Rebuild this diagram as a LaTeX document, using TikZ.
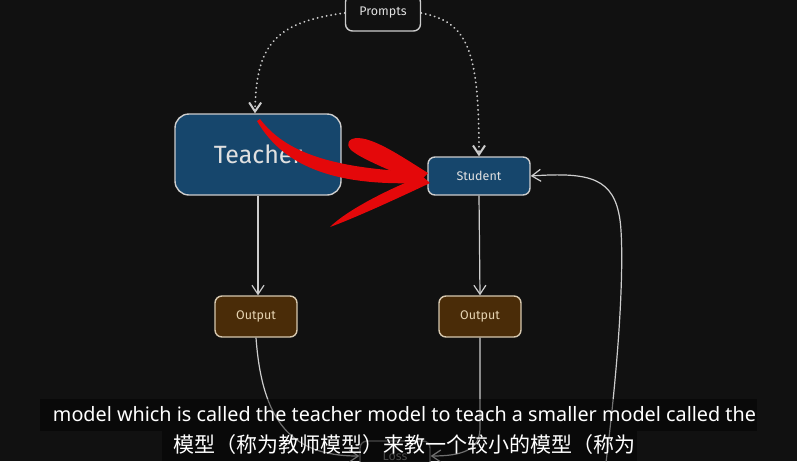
\documentclass[tikz,border=0pt]{standalone}
\usepackage{fontspec}
\setmainfont{Fira Sans}
\newfontfamily\subtitulo{Noto Sans}
\newfontfamily\cjk{Noto Sans CJK SC}
\usetikzlibrary{arrows.meta, positioning, calc}
\definecolor{fondo}{RGB}{17,17,17}
\definecolor{azulmodelo}{RGB}{22,70,108}
\definecolor{marron}{RGB}{74,44,8}
\definecolor{borde}{RGB}{205,205,205}
\definecolor{bordesalida}{RGB}{215,200,175}
\definecolor{textosalida}{RGB}{230,212,178}
\definecolor{rojo}{RGB}{228,8,10}

\begin{document}
\begin{tikzpicture}[x=1pt, y=-1pt,
                caja/.style={
                    rectangle,
                    rounded corners=7pt,
                    draw=borde,
                    line width=1.4pt,
                    fill=fondo,
                    text=white!88!black,
                    font=\fontsize{12.5}{14}\selectfont,
                    inner sep=0pt
                },
                modelo/.style={caja, fill=azulmodelo},
                salida/.style={caja, fill=marron, draw=bordesalida, text=textosalida,
                    minimum width=82pt, minimum height=41pt},
                flecha/.style={draw=borde, line width=1.2pt, -{Straight Barb[length=9pt, width=12pt]}},
                puntos/.style={flecha, line width=2pt, line cap=round, dash pattern=on 0.1pt off 4.5pt},
                banda/.style={fill=black, opacity=0.45}
            ]
                \fill[fondo] (0,0) rectangle (797,461);
                \useasboundingbox (0,0) rectangle (797,461);
                \clip (0,0) rectangle (797,461);

                \node[caja, minimum width=75pt, minimum height=36pt] (prompts) at (383,13) {Prompts};
                \node[modelo, rounded corners=14pt, minimum width=166pt, minimum height=81pt,
                      font=\fontsize{25}{28}\selectfont] (teacher) at (258,154.5) {Teacher};
                \node[modelo, minimum width=102pt, minimum height=38pt] (student) at (479,176) {Student};
                \node[salida] (out1) at (256,316.5) {Output};
                \node[salida] (out2) at (480,316.5) {Output};
                \node[caja, draw=borde!60!fondo, text=borde!60!fondo, minimum width=70pt, minimum height=30pt] (loss) at (395,456) {Loss};
                \coordinate (retorno) at (604,478);

                \draw[puntos] (prompts.west) .. controls (275,22) and (256,45) .. (teacher.north -| 255,0);
                \draw[puntos] (prompts.east) .. controls (468,22) and (479,50) .. (student.north);
                \draw[flecha] (teacher.south) -- (out1.north -| teacher.south);
                \draw[flecha] (student.south) -- (out2.north);
                \draw[flecha] (retorno) .. controls (622,340) and (624,250) .. (620,220) .. controls (614,178) and (590,172) .. (student.east);
                \draw[flecha] (out1.south) .. controls (262,420) and (290,456) .. (loss.west);
                \draw[flecha] (out2.south) -- (480,428) .. controls (480,450) and (462,456) .. (loss.east);

                \fill[rojo] (260,119) .. controls (285,152) and (330,168) .. (418,172) -- (418,183) .. controls (330,186) and (282,164) .. (257,121) -- cycle;
                \fill[rojo] (352,139) .. controls (368,133) and (402,157) .. (428,173) -- (419,182) .. controls (395,173) and (365,160) .. (355,153) .. controls (347,148) and (346,142) .. (352,139) -- cycle;
                \fill[rojo] (422,176) -- (430,183) .. controls (392,201) and (352,219) .. (330,227) .. controls (346,211) and (386,190) .. (422,176) -- cycle;

                \fill[banda] (40,399) rectangle (757,431);
                \fill[banda] (162,431) rectangle (637,461);
                \node[text=white, font=\subtitulo\fontsize{19.8}{21}\selectfont] (sub1) at (404.5,414.5) {model which is called the teacher model to teach a smaller model called the};
                \node[text=white, font=\cjk\fontsize{21}{23}\selectfont] (sub2) at (404.5,445) {模型（称为教师模型）来教一个较小的模型（称为};
            \end{tikzpicture}
\end{document}
